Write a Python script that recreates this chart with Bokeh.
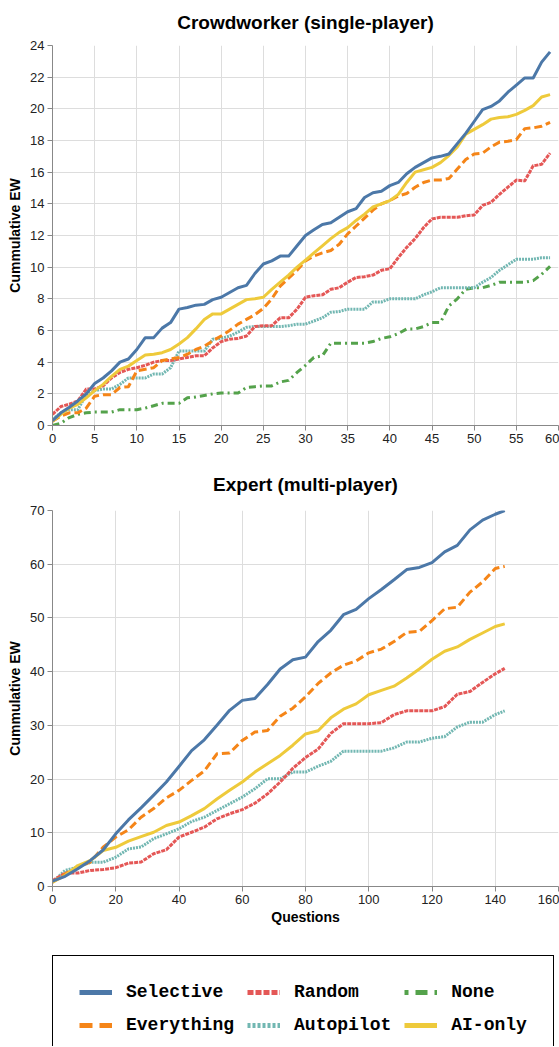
import numpy as np
from bokeh.plotting import figure
from bokeh.models import Range1d, Legend, LegendItem, FixedTicker
from bokeh.layouts import column
from bokeh.embed import file_html
from bokeh.resources import INLINE

# ---------------- data ----------------
series_names = ["Selective", "Everything", "Random", "Autopilot", "None", "AI-only"]

cw_questions = list(range(60))
cw_selective = [0.3, 0.8, 1.15, 1.55, 2.0, 2.65, 3.0, 3.45, 4.0, 4.2,
                4.8, 5.55, 5.55, 6.15, 6.5, 7.35, 7.45, 7.6, 7.65, 7.95,
                8.1, 8.4, 8.7, 8.85, 9.6, 10.2, 10.4, 10.7, 10.7, 11.35,
                12.0, 12.36, 12.7, 12.8, 13.15, 13.5, 13.7, 14.4, 14.7, 14.8,
                15.15, 15.35, 15.9, 16.3, 16.6, 16.9, 17.0, 17.15, 17.8, 18.45,
                19.2, 19.95, 20.15, 20.5, 21.05, 21.5, 21.95, 21.95, 22.95, 23.6]
cw_everything = [0.27, 0.6, 0.8, 0.8, 1.1, 1.85, 1.95, 1.95, 2.4, 2.45,
                 3.45, 3.55, 3.65, 4.1, 4.2, 4.3, 4.5, 4.8, 5.0, 5.35,
                 5.65, 6.0, 6.4, 6.7, 7.0, 7.4, 8.0, 8.8, 9.3, 9.8,
                 10.4, 10.7, 10.9, 11.05, 11.45, 12.1, 12.6, 13.1, 13.6, 14.0,
                 14.2, 14.5, 14.65, 15.05, 15.35, 15.5, 15.5, 15.6, 16.2, 16.8,
                 17.15, 17.2, 17.6, 17.9, 17.95, 18.05, 18.75, 18.8, 18.9, 19.15]
cw_random = [0.7, 1.2, 1.35, 1.55, 2.3, 2.3, 2.5, 3.0, 3.35, 3.55,
             3.65, 3.8, 4.0, 4.1, 4.1, 4.2, 4.3, 4.4, 4.4, 4.9,
             5.3, 5.45, 5.5, 5.65, 6.25, 6.3, 6.3, 6.8, 6.8, 7.35,
             8.1, 8.2, 8.25, 8.6, 8.7, 9.05, 9.35, 9.4, 9.5, 9.8,
             9.9, 10.6, 11.25, 11.8, 12.5, 13.05, 13.15, 13.15, 13.15, 13.25,
             13.3, 13.9, 14.1, 14.6, 15.05, 15.5, 15.45, 16.4, 16.5, 17.2]
cw_autopilot = [0.4, 0.8, 1.0, 1.0, 1.95, 2.2, 2.3, 2.3, 2.6, 3.0,
                3.0, 3.0, 3.25, 3.25, 3.65, 4.7, 4.7, 4.7, 4.7, 5.45,
                5.5, 5.65, 5.9, 6.2, 6.25, 6.25, 6.25, 6.25, 6.3, 6.4,
                6.4, 6.6, 6.8, 7.15, 7.2, 7.35, 7.35, 7.35, 7.8, 7.8,
                8.0, 8.0, 8.0, 8.0, 8.25, 8.45, 8.7, 8.7, 8.7, 8.7,
                8.7, 9.05, 9.35, 9.8, 10.15, 10.5, 10.5, 10.5, 10.6, 10.6]
cw_none = [0.0, 0.15, 0.5, 0.7, 0.8, 0.85, 0.85, 0.85, 1.0, 1.0,
           1.0, 1.1, 1.25, 1.4, 1.4, 1.4, 1.75, 1.8, 1.9, 2.0,
           2.05, 2.05, 2.05, 2.4, 2.45, 2.5, 2.5, 2.75, 2.85, 3.35,
           3.8, 4.3, 4.4, 5.2, 5.2, 5.2, 5.2, 5.2, 5.3, 5.5,
           5.6, 5.8, 6.1, 6.1, 6.25, 6.5, 6.5, 7.55, 8.0, 8.6,
           8.7, 8.7, 8.85, 9.05, 9.05, 9.05, 9.05, 9.15, 9.55, 10.05]
cw_aionly = [0.27, 0.7, 1.1, 1.33, 1.75, 2.2, 2.6, 3.1, 3.55, 3.75,
             4.1, 4.45, 4.5, 4.6, 4.8, 5.15, 5.55, 6.1, 6.7, 7.05,
             7.05, 7.35, 7.65, 7.95, 8.0, 8.1, 8.6, 9.05, 9.5, 10.0,
             10.45, 10.9, 11.35, 11.8, 12.2, 12.5, 12.95, 13.35, 13.8, 14.0,
             14.2, 14.6, 15.35, 16.0, 16.15, 16.3, 16.6, 17.05, 17.6, 18.4,
             18.7, 19.0, 19.35, 19.45, 19.5, 19.65, 19.9, 20.2, 20.75, 20.9]

ex_questions = [0, 4, 8, 12, 16, 20, 24, 28, 32, 36, 40, 44, 48, 52, 56, 60, 64, 68, 72,
                76, 80, 84, 88, 92, 96, 100, 104, 108, 112, 116, 120, 124, 128, 132, 136, 140, 143]
ex_selective = [1.0, 1.9, 3.3, 4.85, 6.8, 9.8, 12.4, 14.65, 17.0, 19.45, 22.35, 25.3, 27.3,
                30.0, 32.8, 34.65, 35.0, 37.6, 40.5, 42.2, 42.7, 45.6, 47.7, 50.6, 51.6, 53.6,
                55.3, 57.1, 59.0, 59.4, 60.3, 62.3, 63.5, 66.4, 68.2, 69.3, 70.0]
ex_everything = [0.8, 2.35, 3.6, 4.55, 7.3, 9.2, 10.55, 12.9, 14.5, 16.5, 17.9, 19.75, 21.5,
                 24.7, 24.85, 27.2, 28.75, 29.05, 31.7, 33.2, 35.3, 37.8, 39.75, 41.2, 42.0,
                 43.5, 44.2, 45.6, 47.3, 47.5, 49.5, 51.7, 52.0, 54.8, 56.7, 59.2, 59.6]
ex_random = [1.1, 2.5, 2.5, 3.0, 3.15, 3.5, 4.35, 4.55, 6.1, 6.85, 9.2, 10.1, 11.05, 12.6,
             13.55, 14.3, 15.5, 17.25, 19.45, 22.0, 24.0, 25.6, 28.5, 30.3, 30.3, 30.3, 30.5,
             32.0, 32.7, 32.7, 32.7, 33.5, 35.8, 36.3, 38.0, 39.6, 40.6]
ex_autopilot = [0.8, 3.0, 3.6, 4.5, 4.5, 5.45, 7.0, 7.35, 8.9, 9.8, 10.75, 12.1, 12.9, 14.15,
                15.4, 16.65, 18.2, 20.05, 20.05, 21.3, 21.3, 22.4, 23.3, 25.2, 25.2, 25.2, 25.2,
                25.8, 26.9, 26.9, 27.6, 27.9, 29.7, 30.6, 30.6, 32.0, 32.7]
ex_aionly = [0.8, 2.05, 3.9, 4.85, 6.7, 7.3, 8.45, 9.3, 10.1, 11.35, 12.0, 13.2, 14.5, 16.3,
             17.9, 19.45, 21.3, 22.85, 24.4, 26.3, 28.4, 29.0, 31.4, 33.0, 34.0, 35.7, 36.5,
             37.3, 38.8, 40.5, 42.3, 43.8, 44.6, 46.0, 47.2, 48.4, 48.9]

cw_xticks = list(range(0, 61, 5))
cw_yticks = list(range(0, 25, 2))
ex_xticks = list(range(0, 161, 20))
ex_yticks = list(range(0, 71, 10))

# ---------------- styles ----------------
COLORS = {"Selective": "#4c78a8", "Everything": "#f58518", "Random": "#e45756",
          "Autopilot": "#72b7b2", "None": "#54a24b", "AI-only": "#eeca3b"}
DASH = {"Selective": "solid", "Everything": "8 4", "Random": "4 1",
        "Autopilot": "2 1", "None": "7 4 2 4", "AI-only": "solid"}
LEG_DASH = {"Selective": "solid", "Everything": "13 7", "Random": "6 2",
            "Autopilot": "3 2", "None": "4 7 12 7", "AI-only": "solid"}
FONT = "Liberation Sans"
W = 559


def make_chart(title, xs, data, xr, yr, xticks, yticks, height, b_top, b_bottom,
               title_standoff, xlabel=None):
    p = figure(width=W, height=height, output_backend="svg", toolbar_location=None,
               x_range=Range1d(*xr), y_range=Range1d(*yr),
               min_border_left=52, min_border_right=1,
               min_border_top=b_top, min_border_bottom=b_bottom)
    p.title.text = title
    p.title.align = "center"
    p.title.vertical_align = "top"
    p.title.text_font = FONT
    p.title.text_font_size = "19px"
    p.title.text_font_style = "bold"
    p.title.text_color = "#000000"
    p.title.standoff = title_standoff
    p.outline_line_color = None
    p.xaxis.ticker = FixedTicker(ticks=xticks)
    p.yaxis.ticker = FixedTicker(ticks=yticks)
    for ax in (p.xaxis, p.yaxis):
        ax.axis_line_color = "#888888"
        ax.major_tick_line_color = "#888888"
        ax.major_tick_out = 5
        ax.major_tick_in = 0
        ax.minor_tick_line_color = None
        ax.major_label_text_font = FONT
        ax.major_label_text_font_size = "13px"
        ax.major_label_text_color = "#222222"
        ax.major_label_standoff = 3
        ax.axis_label_text_font = FONT
        ax.axis_label_text_font_size = "14px"
        ax.axis_label_text_font_style = "bold"
        ax.axis_label_text_color = "#000000"
    p.yaxis.axis_label = "Cummulative EW"
    p.yaxis.axis_label_standoff = 4
    if xlabel:
        p.xaxis.axis_label = xlabel
        p.xaxis.axis_label_standoff = 2
    p.grid.grid_line_color = "#dddddd"
    p.grid.grid_line_width = 1
    for name in ["None", "Autopilot", "Random", "Everything", "AI-only", "Selective"]:
        if len(data[name]) == 0:
            continue
        p.line(xs, data[name], line_color=COLORS[name], line_width=3,
               line_dash=DASH[name], line_join="round")
    return p


p1 = make_chart("Crowdworker (single-player)", cw_questions,
                {"Selective": cw_selective, "Everything": cw_everything, "Random": cw_random,
                 "Autopilot": cw_autopilot, "None": cw_none, "AI-only": cw_aionly},
                (0, 60), (0, 24), cw_xticks, cw_yticks, 458, 45, 33, 21)

p2 = make_chart("Expert (multi-player)", ex_questions,
                {"Selective": ex_selective, "Everything": ex_everything, "Random": ex_random,
                 "Autopilot": ex_autopilot, "AI-only": ex_aionly, "None": []},
                (0, 160), (0, 70), ex_xticks, ex_yticks, 482, 52, 54, 28, xlabel="Questions")

# ---------------- legend ----------------
LEG_H = 106
pl = figure(width=W, height=LEG_H, output_backend="svg", toolbar_location=None,
            x_range=Range1d(0, 1), y_range=Range1d(0, 1),
            x_axis_location=None, y_axis_location=None, min_border=0)
pl.grid.visible = False
pl.outline_line_color = None
legend_order = ["Selective", "Everything", "Random", "Autopilot", "None", "AI-only"]
items = []
for name in legend_order:
    # a legend sample only: a single undefined point, nothing is drawn in the frame
    r = pl.line(x=np.array([np.nan]), y=np.array([np.nan]), line_color=COLORS[name],
                line_width=5, line_dash=LEG_DASH[name])
    items.append(LegendItem(label=name, renderers=[r]))
leg = Legend(items=items, location=(0, -16), orientation="vertical", nrows=2,
             glyph_width=33, glyph_height=20, label_height=20, label_standoff=14,
             spacing=13, padding=26, margin=0,
             label_text_font="Liberation Mono", label_text_font_style="bold",
             label_text_font_size="18px", label_text_color="#000000",
             border_line_color="#000000", border_line_width=1, border_line_alpha=1,
             background_fill_color="#ffffff", background_fill_alpha=1)
pl.add_layout(leg, "center")

layout = column(p1, p2, pl, spacing=0)
open("out.html", "w").write(file_html(layout, INLINE))
